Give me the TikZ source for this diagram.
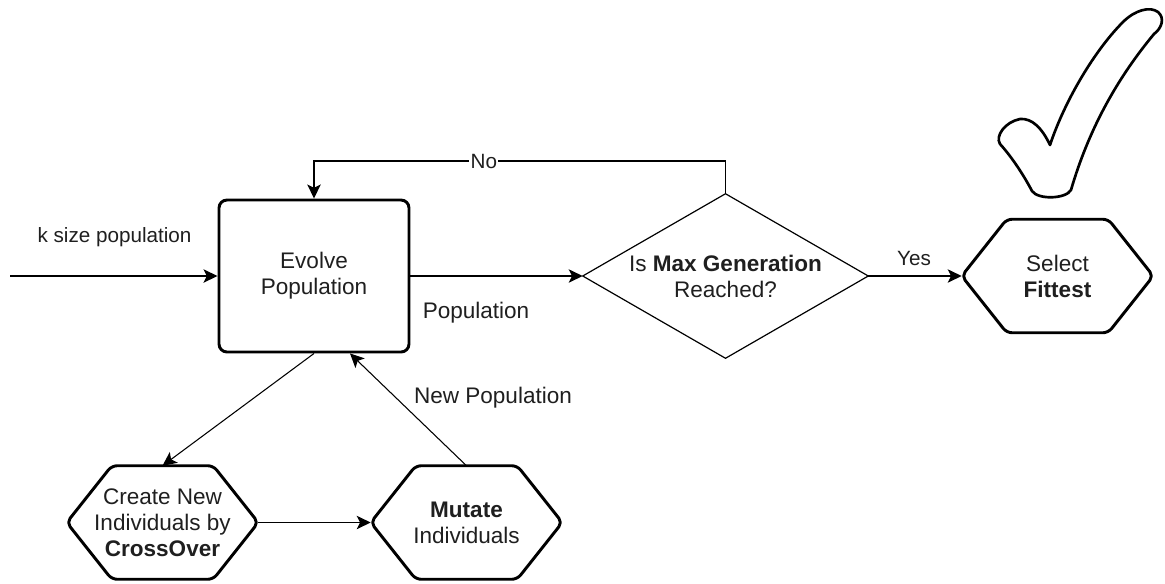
\documentclass[tikz,border=0pt]{standalone}
\usepackage{fontspec}
\setmainfont{Liberation Sans}
\usetikzlibrary{arrows.meta}
\begin{document}
\begin{tikzpicture}[x=0.75pt,y=-0.75pt,
  every node/.style={font=\fontsize{16.9}{19.5}\selectfont, text=black!88, align=center, inner sep=0pt},
  smalltxt/.style={font=\fontsize{15.5}{18}\selectfont},
  procbox/.style={draw, line width=2.2pt, rounded corners=6pt, minimum width=142.5pt, minimum height=114pt},
  hexfit/.style={minimum width=143.25pt, minimum height=84.75pt},
  diamfit/.style={minimum width=213.75pt, minimum height=123pt},
  hexline/.style={line width=2.2pt, rounded corners=4pt, line join=round},
  tip/.style={-{Stealth[length=10.5pt,width=10pt,inset=2.5pt]}},
  conn/.style={tip, line width=1.3pt},
  slim/.style={tip, line width=0.8pt}
]
\useasboundingbox[fill=white] (0,0) rectangle (1165,583);

% main nodes
\node[procbox] (e) at (314,276) {Evolve\\Population};
\node[diamfit] (d) at (725.5,276) {Is \textbf{Max Generation}\\Reached?};
\node[hexfit] (s) at (1057.5,276) {Select\\\textbf{Fittest}};
\node[hexfit] (c) at (162.5,522.5) {Create New\\Individuals by\\\textbf{CrossOver}};
\node[hexfit] (m) at (466.5,522.5) {\textbf{Mutate}\\Individuals};

% decision outline
\draw[line width=0.9pt, line join=miter] (d.north) -- (d.east) -- (d.south) -- (d.west) -- cycle;

% hexagon outlines
\foreach \n in {c,m,s}
  \draw[hexline] (\n.west) -- ([xshift=33.75pt]\n.north west) -- ([xshift=-33.75pt]\n.north east)
    -- (\n.east) -- ([xshift=-33.75pt]\n.south east) -- ([xshift=33.75pt]\n.south west) -- cycle;

% connectors
\coordinate (in) at (10,276);
\coordinate (nor) at (725.5,161);
\coordinate (nol) at (314,161);
\draw[conn] (in) -- (e.west);
\draw[conn] (e.east) -- (d.west);
\draw[conn] (d.east) -- (s.west);
\draw[conn] (d.north) -- (nor) -- node[pos=0.587, fill=white, inner xsep=1pt, smalltxt] (no) {No} (nol) -- (e.north);
\draw[slim] (e.south) -- (c.north);
\draw[conn] (c.east) -- (m.west);
\draw[slim] (m.north) -- ([xshift=27pt]e.south);

% labels
\node[smalltxt] (lk) at (114.5,237) {k size population};
\node[smalltxt] (ly) at (914,258) {Yes};
\node (lp) at (476,313) {Population};
\node (ln) at (493,398) {New Population};

% check mark
\draw[line width=2pt, line join=round]
  (1050,145) .. controls (1065,100) and (1095,50) .. (1123,22)
  .. controls (1135,10) and (1150,6) .. (1158,12)
  .. controls (1165,18) and (1162,28) .. (1154,34)
  .. controls (1120,75) and (1090,125) .. (1071,190)
  .. controls (1066,199) and (1038,200) .. (1032,191)
  .. controls (1022,172) and (1010,155) .. (1000,144)
  .. controls (995,136) and (1005,122) .. (1020,119)
  .. controls (1032,118) and (1042,128) .. (1050,145) -- cycle;
\end{tikzpicture}
\end{document}
